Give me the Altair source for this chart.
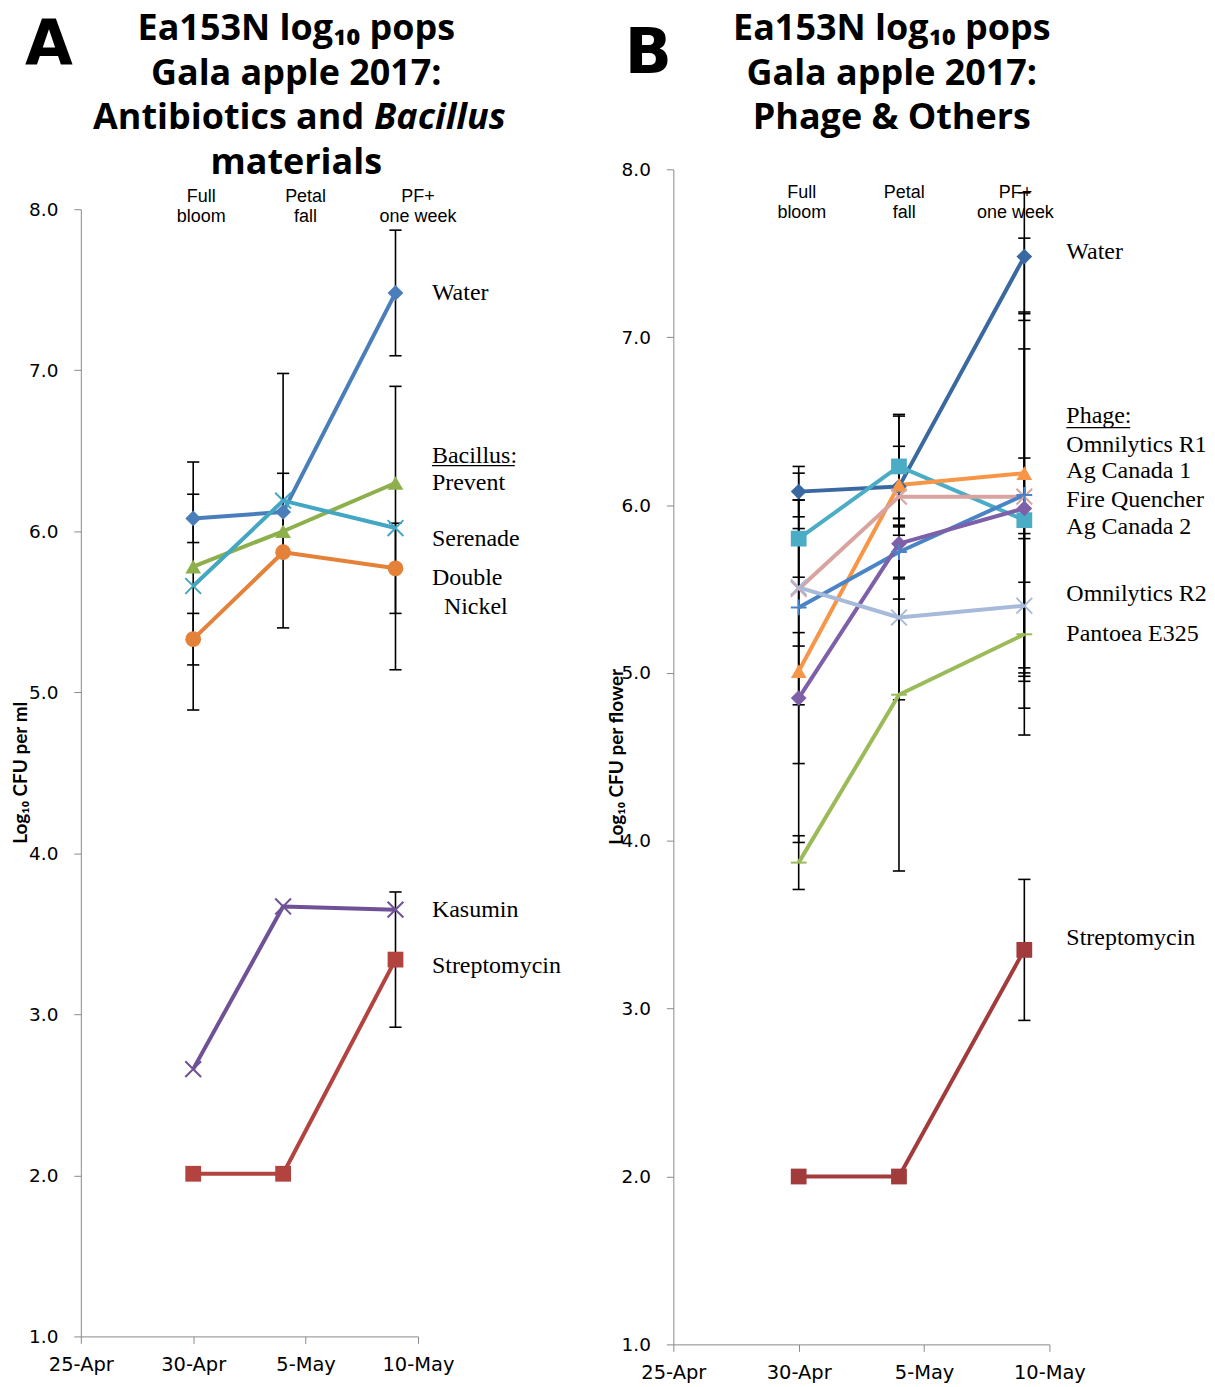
import altair as alt
import pandas as pd

# ---------------- data ----------------
dates = ["2017-04-30T00:00:00", "2017-05-04T00:00:00", "2017-05-09T00:00:00"]
x_domain = [(2017, 4, 25), (2017, 5, 10)]
x_ticks = [(2017, 4, 25), (2017, 4, 30), (2017, 5, 5), (2017, 5, 10)]
y_ticks = [1, 2, 3, 4, 5, 6, 7, 8]

# Panel A: Antibiotics and Bacillus materials (log10 CFU per ml)
a_names = ["Water", "Prevent", "Serenade", "Double Nickel", "Kasumin", "Streptomycin"]
a_water = [6.08, 6.12, 7.48]
a_prevent = [5.78, 6.00, 6.30]
a_serenade = [5.66, 6.19, 6.02]
a_double_nickel = [5.33, 5.87, 5.77]
a_kasumin = [2.66, 3.67, 3.65]
a_strep = [2.01, 2.01, 3.34]
a_water_err = [0.15, 0.24, 0.39]
a_prevent_err = [0, 0, 0]
a_serenade_err = [0.77, 0.79, 0.88]
a_double_nickel_err = [0.16, 0, 0.28]
a_kasumin_err = [0, 0, 0]
a_strep_err = [0, 0, 0.42]

# Panel B: Phage & others (log10 CFU per flower)
b_names = ["Water", "Ag Canada 2", "Omnilytics R1", "Ag Canada 1", "Fire Quencher",
           "Unlabeled", "Omnilytics R2", "Pantoea E325", "Streptomycin"]
b_water = [6.08, 6.11, 7.48]
b_teal = [5.80, 6.23, 5.91]
b_orange = [5.01, 6.12, 6.19]
b_rose = [5.50, 6.05, 6.05]
b_blue = [5.39, 5.72, 6.06]
b_purple = [4.85, 5.77, 5.98]
b_lightblue = [5.51, 5.33, 5.40]
b_green = [3.87, 4.87, 5.23]
b_strep = [2.00, 2.00, 3.35]
b_water_err = [0.15, 0.24, 0.38]
b_teal_err = [0.23, 0.31, 0.37]
b_orange_err = [1.02, 0, 1.40]
b_rose_err = [0.69, 0.48, 1.10]
b_blue_err = [0, 0.16, 1.08]
b_purple_err = [0.39, 0.33, 0.95]
b_lightblue_err = [0.35, 0.49, 0.40]
b_green_err = [0.16, 1.05, 0.60]
b_strep_err = [0, 0, 0.42]

# annotation texts
phase_text = ["Full\nbloom", "Petal\nfall", "PF+\none week"]
a_phase_x = ["2017-04-30T08:30:00", "2017-05-05T00:00:00", "2017-05-10T00:00:00"]
b_phase_x = ["2017-04-30T03:00:00", "2017-05-04T05:00:00", "2017-05-08T15:30:00"]

a_label_text = ["Water", "Bacillus:", "Prevent", "Serenade", "Double", "Kasumin", "Streptomycin"]
a_label_y = [7.48, 6.47, 6.30, 5.95, 5.71, 3.65, 3.30]
a_label2_text = ["Nickel"]
a_label2_y = [5.53]

b_label_text = ["Water", "Phage:", "Omnilytics R1", "Ag Canada 1", "Fire Quencher",
                "Ag Canada 2", "Omnilytics R2", "Pantoea E325", "Streptomycin"]
b_label_y = [7.51, 6.53, 6.36, 6.20, 6.03, 5.87, 5.47, 5.23, 3.42]

# ---------------- styles ----------------
X_PATH = "M-1,-1L1,1M-1,1L1,-1"
PLUS_PATH = "M-1,0L1,0M0,-1L0,1"
DASH_PATH = "M-1,0L1,0"
CAP_PATH = "M-1,0L1,0"

a_colors = ["#4A7EBB", "#8DB04C", "#43A6C2", "#E4823A", "#6E5196", "#B3433F"]
a_shapes = ["diamond", "triangle-up", X_PATH, "circle", X_PATH, "square"]
a_filled = [True, True, False, True, False, True]

b_colors = ["#3A68A0", "#4BACC6", "#F79646", "#D9A3A0", "#4A84C6",
            "#7D60A8", "#A8BADA", "#9BBB59", "#A23B3B"]
b_shapes = ["diamond", "square", "triangle-up", X_PATH, PLUS_PATH,
            "diamond", X_PATH, DASH_PATH, "square"]
b_filled = [True, True, True, False, False, True, False, False, True]

TITLE_FONT = "Open Sans"
YTITLE_FONT = "Lato"
SERIF = "Liberation Serif"
AXIS_FONT = "DejaVu Sans"


def dt(t):
    return alt.DateTime(year=t[0], month=t[1], date=t[2])


def build_df(names, values, errs, filled):
    rows = []
    for n, vals, es, f in zip(names, values, errs, filled):
        for d, v, e in zip(dates, vals, es):
            rows.append({"series": n, "date": d, "value": v, "err": e, "filled": f})
    return pd.DataFrame(rows)


def make_enc(y_range):
    def xenc(field="date:T"):
        return alt.X(
            field,
            scale=alt.Scale(domain=[dt(t) for t in x_domain]),
            axis=alt.Axis(values=[dt(t) for t in x_ticks], format="%-d-%b", title=None,
                          grid=False, labelFont=AXIS_FONT, labelFontSize=19.5,
                          labelColor="black", domainColor="#8a8a8a", tickColor="#8a8a8a",
                          tickSize=7, labelPadding=12, labelFlush=False, labelOverlap=False),
        )

    def yenc(field):
        return alt.Y(
            field,
            type="quantitative",
            scale=alt.Scale(domain=[1, 8], nice=False, zero=False, range=y_range),
            axis=alt.Axis(values=y_ticks, format=".1f", title=None, grid=False,
                          labelFont=AXIS_FONT, labelFontSize=18.5, labelColor="black",
                          domainColor="#8a8a8a", tickColor="#8a8a8a", tickSize=7,
                          labelPadding=16),
        )
    return xenc, yenc


def ptext(text, x, y, **kw):
    return alt.Chart(pd.DataFrame({"t": [text]})).mark_text(**kw).encode(
        x=alt.value(x), y=alt.value(y), text="t:N")


def underline(x1, x2, y):
    return alt.Chart(pd.DataFrame({"a": [0]})).mark_rule(color="black", strokeWidth=1.3).encode(
        x=alt.value(x1), x2=alt.value(x2), y=alt.value(y))


def panel(df, names, colors, shapes, w, h, y_range, phase_x, phase_y, lab_text, lab_y,
          lab_dx, extra):
    xenc, yenc = make_enc(y_range)
    color = alt.Color("series:N", scale=alt.Scale(domain=names, range=colors), legend=None)
    shape = alt.Shape("series:N", scale=alt.Scale(domain=names, range=shapes), legend=None)
    base = alt.Chart(df)

    err = base.transform_filter("datum.err > 0").transform_calculate(
        lo="datum.value - datum.err", hi="datum.value + datum.err"
    ).mark_rule(color="black", strokeWidth=1.6).encode(
        x=xenc(), y=yenc("lo"), y2="hi:Q")

    caps = base.transform_filter("datum.err > 0").transform_calculate(
        lo="datum.value - datum.err", hi="datum.value + datum.err"
    ).transform_fold(["lo", "hi"], as_=["end", "v"]).mark_point(
        shape=CAP_PATH, size=150, filled=False, color="black", strokeWidth=1.6, opacity=1
    ).encode(x=xenc(), y=yenc("v"))

    lines = base.mark_line(strokeWidth=4, strokeJoin="round").encode(
        x=xenc(), y=yenc("value"), color=color, detail="series:N")

    filled_pts = base.transform_filter("datum.filled").mark_point(
        filled=True, size=250, opacity=1).encode(
        x=xenc(), y=yenc("value"), color=color, shape=shape)

    stroked_pts = base.transform_filter("!datum.filled").mark_point(
        filled=False, size=250, strokeWidth=2, opacity=1).encode(
        x=xenc(), y=yenc("value"), color=color, shape=shape)

    phase = alt.Chart(pd.DataFrame({"t": phase_text, "d": phase_x})).mark_text(
        font="Liberation Sans", fontSize=18, lineBreak="\n", lineHeight=20,
        align="center", baseline="top", color="black").encode(
        x=xenc("d:T"), y=alt.value(phase_y), text="t:N")

    labels = alt.Chart(pd.DataFrame({"t": lab_text, "y": lab_y,
                                     "d": ["2017-05-10T00:00:00"] * len(lab_text)})).mark_text(
        font=SERIF, fontSize=24, align="left", baseline="middle", dx=lab_dx, color="black").encode(
        x=xenc("d:T"), y=yenc("y"), text="t:N")

    layers = [err, caps, lines, filled_pts, stroked_pts, phase, labels]
    for item in extra:
        if item[0] == "label2":
            _, t, y, dx = item
            layers.append(alt.Chart(pd.DataFrame({"t": t, "y": y,
                                                  "d": ["2017-05-10T00:00:00"] * len(t)})).mark_text(
                font=SERIF, fontSize=24, align="left", baseline="middle", dx=dx,
                color="black").encode(x=xenc("d:T"), y=yenc("y"), text="t:N"))
        else:
            layers.append(item[1])
    return alt.layer(*layers).properties(width=w, height=h)


title_kw = dict(font=TITLE_FONT, fontSize=36, fontWeight="bold", baseline="alphabetic",
                color="black")
ytitle_kw = dict(angle=270, font=YTITLE_FONT, fontSize=19, fontWeight="bold",
                 align="center", baseline="middle", color="black")
letter_kw = dict(font="DejaVu Sans", fontSize=62, fontWeight="bold", align="center",
                 baseline="alphabetic", color="black")

# ---------------- panel A ----------------
dfA = build_df(a_names,
               [a_water, a_prevent, a_serenade, a_double_nickel, a_kasumin, a_strep],
               [a_water_err, a_prevent_err, a_serenade_err, a_double_nickel_err,
                a_kasumin_err, a_strep_err],
               a_filled)
OFF = 40                    # panel A plot starts lower than panel B
WA, HA = 338, 1130 + OFF
extraA = [
    ("m", ptext("A", -32, -106, **letter_kw)),
    ("m", ptext("Ea153N log₁₀ pops", 216, -130, align="center", **title_kw)),
    ("m", ptext("Gala apple 2017:", 216, -85, align="center", **title_kw)),
    ("m", ptext("Antibiotics and", 284, -40, align="right", **title_kw)),
    ("m", ptext("Bacillus", 294, -40, align="left", fontStyle="italic", **title_kw)),
    ("m", ptext("materials", 216, 5, align="center", **title_kw)),
    ("m", ptext("Log₁₀ CFU per ml", -60, OFF + 565, **ytitle_kw)),
    ("label2", a_label2_text, a_label2_y, 26),
    ("m", underline(352, 435, OFF + 257)),
]
panelA = panel(dfA, a_names, a_colors, a_shapes, WA, HA, [HA, OFF], a_phase_x, 19,
               a_label_text, a_label_y, 14, extraA)

# ---------------- panel B ----------------
dfB = build_df(b_names,
               [b_water, b_teal, b_orange, b_rose, b_blue, b_purple, b_lightblue,
                b_green, b_strep],
               [b_water_err, b_teal_err, b_orange_err, b_rose_err, b_blue_err,
                b_purple_err, b_lightblue_err, b_green_err, b_strep_err],
               b_filled)
WB, HB = 377, 1178
extraB = [
    ("m", ptext("B", -25, -97, **letter_kw)),
    ("m", ptext("Ea153N log₁₀ pops", 219, -130, align="center", **title_kw)),
    ("m", ptext("Gala apple 2017:", 219, -85, align="center", **title_kw)),
    ("m", ptext("Phage & Others", 219, -40, align="center", **title_kw)),
    ("m", ptext("Log₁₀ CFU per flower", -56, HB / 2, **ytitle_kw)),
    ("m", underline(394, 458, 259)),
]
panelB = panel(dfB, b_names, b_colors, b_shapes, WB, HB, [HB, 0], b_phase_x, 15,
               b_label_text, b_label_y, 17, extraB)

chart = alt.hconcat(panelA, panelB, spacing=47).resolve_scale(
    color="independent", shape="independent"
).properties(
    padding={"left": 4, "top": 1, "right": 0, "bottom": 0}
).configure_view(stroke=None)

chart.save("out.html", embed_options={"renderer": "svg", "actions": False})
